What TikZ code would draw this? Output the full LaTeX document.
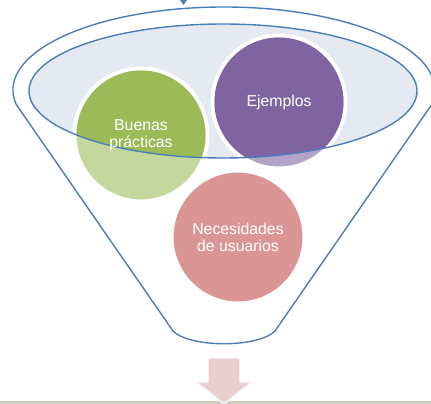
\documentclass[tikz,border=0pt]{standalone}
\usepackage{fontspec}
\setmainfont{Liberation Sans}
\definecolor{azulborde}{HTML}{4A7EBB}
\definecolor{azulclaro}{HTML}{E4E9F2}
\definecolor{verde}{HTML}{9BBB59}
\definecolor{verdeclaro}{HTML}{C4D79C}
\definecolor{morado}{HTML}{8064A2}
\definecolor{moradoclaro}{HTML}{B3A3C8}
\definecolor{rosa}{HTML}{D99694}
\definecolor{flecharosa}{HTML}{E8D0D1}
\definecolor{barra}{HTML}{CFCFC0}
\begin{document}
\begin{tikzpicture}[
        x=1pt, y=1pt,
        every node/.style={font=\fontsize{15.8}{16.8}\selectfont},
        circulo/.style={circle, draw=white, line width=4pt, minimum size=133pt, inner sep=0pt},
        texto/.style={text=white, align=center},
        borde/.style={draw=azulborde, line width=1.4pt}
    ]
    \useasboundingbox (0,0) rectangle (431,404);

    % Boca del embudo
    \coordinate (boca) at (223,313);
    \coordinate (rim) at (224,314);
    \fill[azulclaro] (boca) ellipse [x radius=194, y radius=67];

    % Circulos
    \node[circulo, fill=verdeclaro] (buenas) at (141,269) {};
    \node[circulo, fill=moradoclaro] (ejemplos) at (279,302) {};
    \node[circulo, fill=rosa] (necesidades) at (238,167) {};

    % Parte dentro de la boca
    \begin{scope}
        \clip (boca) ellipse [x radius=194, y radius=67];
        \fill[verde] (buenas.center) circle (64.5);
        \fill[morado] (ejemplos.center) circle (64.5);
    \end{scope}
    \draw[borde] (boca) ellipse [x radius=194, y radius=67];

    % Textos
    \node[texto] (tbuenas) at (buenas) {Buenas\\prácticas};
    \node[texto] (tejemplos) at (ejemplos) {Ejemplos};
    \node[texto] (tnecesidades) at (necesidades) {Necesidades\\de usuarios};

    % Embudo
    \draw[borde, line join=round] (rim) ++(190:211 and 83)
        arc[start angle=190, end angle=-10, x radius=211, y radius=83]
        -- (275,73) .. controls (258,56) and (190,56) .. (173,73) -- cycle;

    % Flecha de entrada
    \fill[azulborde] (180,404) -- (187,404) -- (183.5,399) -- cycle;

    % Salida
    \fill[barra] (0,0) rectangle (431,3);
    \filldraw[fill=flecharosa, draw=white, line width=1.2pt]
        (208,46) -- (240,46) -- (240,22) -- (252,22) -- (224,0)
        -- (196,22) -- (208,22) -- cycle;
\end{tikzpicture}
\end{document}
